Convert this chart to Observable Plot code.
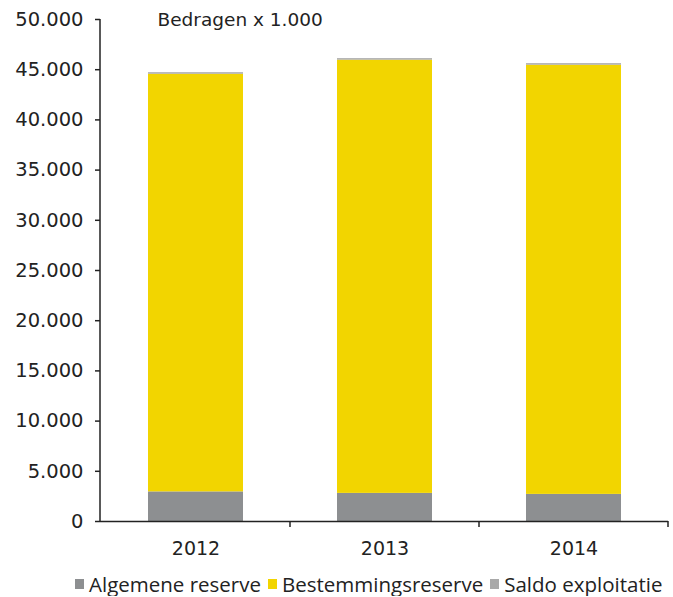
<!DOCTYPE html>
<html><head><meta charset="utf-8">
<script src="https://cdn.jsdelivr.net/npm/d3@7"></script>
<script src="https://cdn.jsdelivr.net/npm/@observablehq/plot@0.6"></script>
<style>
body{margin:0;background:#fff;overflow:hidden;}
#legend{display:flex;flex-wrap:nowrap;white-space:nowrap;width:673px;margin-left:75px;margin-top:7px;font-family:"Open Sans",sans-serif;font-size:20.5px;line-height:24px;color:#222;}
#legend span.item{display:flex;flex-shrink:0;white-space:nowrap;align-items:center;margin-right:7px;}
#legend span.sw{display:inline-block;flex-shrink:0;width:9px;height:10px;margin-right:5px;}
</style></head>
<body><div id="chart"></div><div id="legend"></div>
<script>
const years = ["2012","2013","2014"];
const series = ["Algemene reserve","Bestemmingsreserve","Saldo exploitatie"];
const algemene = [2950, 2800, 2700];
const bestemming = [41600, 43150, 42750];
const saldo = [150, 150, 150];
const yTicks = [0,5000,10000,15000,20000,25000,30000,35000,40000,45000,50000];
const colors = ["#8d8f91","#f2d500","#a9a9a9"];

const data = [];
years.forEach((y,i)=>{
  data.push({year:y, series:series[0], value:algemene[i]});
  data.push({year:y, series:series[1], value:bestemming[i]});
  data.push({year:y, series:series[2], value:saldo[i]});
});
const nl = d3.formatLocale({decimal:",", thousands:".", grouping:[3], currency:["€",""]});
const fmt = nl.format(",.0f");

function boundaryTicks(index, scales, values, dims) {
  const x = scales.x;
  const g = d3.create("svg:g");
  const bw = x.bandwidth ? x.bandwidth() : scales.scales.x.bandwidth;
  const step = x.step ? x.step() : scales.scales.x.step;
  const y0 = dims.height - dims.marginBottom;
  const xl = dims.marginLeft;
  g.append("line").attr("x1",xl).attr("x2",xl).attr("y1",dims.marginTop).attr("y2",y0).attr("stroke","#222").attr("stroke-width",1.5);
  years.forEach((yr,i)=>{
    const xb = x(yr) + bw/2 + step/2;
    g.append("line").attr("x1",xb).attr("x2",xb).attr("y1",y0).attr("y2",y0+6).attr("stroke","#222").attr("stroke-width",1.5);
  });
  return g.node();
}

const FF = '"DejaVu Sans", Verdana, sans-serif';
const chart = Plot.plot({
  width:673, height:565,
  marginLeft:100, marginRight:5, marginTop:19, marginBottom:44,
  style:{fontFamily:FF, fontSize:"19px", color:"#222", background:"#fff"},
  x:{domain:years, paddingInner:0.5, paddingOuter:0.25, label:null},
  y:{domain:[0,50000], label:null},
  color:{domain:series, range:colors},
  marks:[
    Plot.barY(data,{x:"year", y:"value", fill:"series", order:series}),
    Plot.axisY({ticks:yTicks, tickFormat:fmt, tickSize:5, tickPadding:12, fontSize:19.5, fontFamily:FF, stroke:"#222", strokeWidth:1.5}),
    Plot.axisX({tickSize:0, tickPadding:20, fontSize:19, fontFamily:FF}),
    Plot.ruleY([0],{stroke:"#222", strokeWidth:1.5}),
    Plot.text(["Bedragen x 1.000"],{frameAnchor:"top-left", lineAnchor:"top", dx:57, dy:-7, fontSize:18.5, fontFamily:FF, textAnchor:"start", fill:"#222"}),
    boundaryTicks
  ]
});
document.getElementById("chart").appendChild(chart);

const leg = document.getElementById("legend");
series.forEach((s,i)=>{
  const it = document.createElement("span"); it.className="item";
  const sw = document.createElement("span"); sw.className="sw"; sw.style.background=colors[i];
  it.appendChild(sw); it.appendChild(document.createTextNode(s)); leg.appendChild(it);
});
</script></body></html>
